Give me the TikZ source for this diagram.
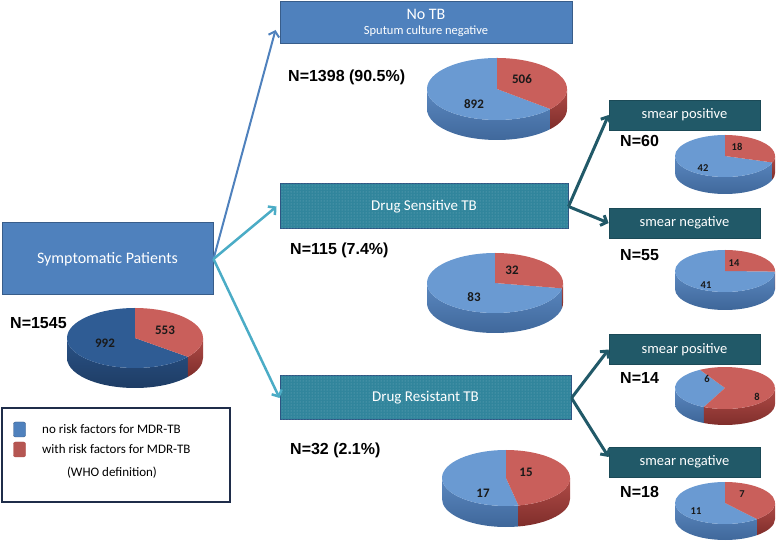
\documentclass[tikz,border=0pt]{standalone}
\usepackage{fontspec}
\setmainfont{Carlito}
\newfontfamily\arialfont{Liberation Sans}
\usetikzlibrary{arrows.meta,patterns}

\definecolor{boxblue}{HTML}{4F81BD}
\definecolor{boxblueline}{HTML}{385D8A}
\definecolor{drugfill}{HTML}{31859C}
\definecolor{drugline}{HTML}{2E5482}
\definecolor{smearfill}{HTML}{215968}
\definecolor{smearline}{HTML}{1B4A57}
\definecolor{arrowcyan}{HTML}{4BACC6}
\definecolor{legendline}{HTML}{1F2D4A}
\definecolor{pietopblue}{HTML}{6A9AD2}
\definecolor{piesideblueA}{HTML}{5B88C0}
\definecolor{piesideblueB}{HTML}{3E6699}
\definecolor{pietopred}{HTML}{C95F5B}
\definecolor{piesideredA}{HTML}{B04B47}
\definecolor{piesideredB}{HTML}{7F2E2B}
\definecolor{pietopdark}{HTML}{2F5C94}
\definecolor{piesidedarkA}{HTML}{2A5286}
\definecolor{piesidedarkB}{HTML}{1D3B62}

% top of one slice: centre, rx, ry, start, end, style
\newcommand{\slicetop}[6]{%
  \path[#6] (#1) -- ++(#4:#2 and #3) arc[start angle=#4, end angle=#5, x radius=#2, y radius=#3] -- cycle;}
% visible side of one slice: centre, rx, ry, depth, start, end, style
\newcommand{\sliceside}[7]{%
  \path[#7] (#1) ++(#5:#2 and #3) arc[start angle=#5, end angle=#6, x radius=#2, y radius=#3]
    -- ++(0,-#4) arc[start angle=#6, end angle=#5, x radius=#2, y radius=#3] -- cycle;}
% two slice pie: centre, rx, ry, depth, red from A to B
\newcommand{\tbpie}[6]{%
  \pgfmathsetmacro\pieAA{#5+360}
  \sliceside{#1}{#2}{#3}{#4}{180}{\pieAA}{blue side}
  \sliceside{#1}{#2}{#3}{#4}{#5}{0}{red side}
  \slicetop{#1}{#2}{#3}{#6}{\pieAA}{blue top}
  \slicetop{#1}{#2}{#3}{#5}{#6}{red top}}

\begin{document}
\begin{tikzpicture}[x=1pt, y=1pt,
  bluebox/.style={draw=boxblueline, line width=1pt, fill=boxblue, text=white, inner sep=0pt,
    align=center, font=\fontsize{16}{18}\selectfont},
  drugbox/.style={draw=drugline, line width=1pt, fill=drugfill, text=white, inner sep=0pt,
    postaction={pattern=dots, pattern color=drugfill!65!white}, font=\fontsize{15}{17}\selectfont},
  smearbox/.style={draw=smearline, line width=0.8pt, fill=smearfill, text=white, inner sep=0pt,
    minimum width=151pt, minimum height=30pt, font=\fontsize{14.5}{17}\selectfont},
  nlabel/.style={anchor=west, inner sep=0pt, font=\arialfont\bfseries\fontsize{16}{18}\selectfont},
  numlabel/.style={inner sep=0pt, text=black!90, font=\bfseries\fontsize{13}{15}\selectfont},
  smallnum/.style={numlabel, font=\bfseries\fontsize{10.5}{12}\selectfont},
  legendtext/.style={inner sep=0pt, font=\fontsize{13}{15}\selectfont},
  flow/.style={line width=2.5pt, -{Straight Barb[length=5pt, width=11pt]}},
  blue top/.style={fill=pietopblue},
  blue side/.style={top color=piesideblueA, bottom color=piesideblueB},
  red top/.style={fill=pietopred},
  red side/.style={top color=piesideredA, bottom color=piesideredB},
  swatch/.style={rounded corners=2pt, minimum width=12pt, minimum height=15pt, inner sep=0pt}]

\path [use as bounding box] (0,0) rectangle (778,543);

% BOXES
\node[bluebox, minimum width=211pt, minimum height=72pt] (sym) at (107.5,284) {Symptomatic Patients};
\node[bluebox, minimum width=292pt, minimum height=42pt] (notb) at (426,520)
  {No TB\\[-3pt]{\fontsize{12.5}{14}\selectfont Sputum culture negative}};
\node[drugbox, minimum width=288pt, minimum height=45pt] (ds) at (424,336.5) {Drug Sensitive TB};
\node[drugbox, minimum width=291pt, minimum height=44pt] (dr) at (425.5,145) {Drug Resistant TB};
\node[smearbox] (sp1) at (684.5,428) {smear positive};
\node[smearbox] (sn1) at (684.5,320) {smear negative};
\node[smearbox] (sp2) at (684.5,193.5) {smear positive};
\node[smearbox] (sn2) at (684.5,81) {smear negative};

% ARROWS
\draw[flow, draw=boxblue, line width=2pt] (sym.east) -- ([xshift=-4pt,yshift=-7pt]notb.west);
\draw[flow, draw=arrowcyan] (sym.east) -- ([xshift=-3pt]ds.west);
\draw[flow, draw=arrowcyan] (sym.east) -- (dr.west);
\draw[flow, draw=smearfill, line width=3pt] (ds.east) -- (sp1.west);
\draw[flow, draw=smearfill, line width=3pt] (ds.east) -- (sn1.west);
\draw[flow, draw=smearfill, line width=3pt] (dr.east) -- (sp2.west);
\draw[flow, draw=smearfill, line width=3pt] (dr.east) -- ([yshift=5pt]sn2.west);

% PIES
\coordinate (pall) at (135,205);
\coordinate (pnotb) at (497,454);
\coordinate (pds) at (495,260);
\coordinate (pdr) at (506,65);
\coordinate (psp1) at (725,387);
\coordinate (psn1) at (725,272);
\coordinate (psp2) at (725,155);
\coordinate (psn2) at (725,40);

\begin{scope}[blue top/.style={fill=pietopdark},
  blue side/.style={top color=piesidedarkA, bottom color=piesidedarkB}]
\tbpie{pall}{68}{30}{20}{-38.9}{90}
\end{scope}
\tbpie{pnotb}{70}{31}{20}{-40.3}{90}
\tbpie{pds}{68}{30}{20}{-10.2}{90}
\tbpie{pdr}{64}{28}{21}{-78.75}{90}
\tbpie{psp1}{50}{21}{17}{-18}{90}
\tbpie{psn1}{50}{21}{18}{-1.6}{90}
\tbpie{psp2}{50}{21}{16}{-115}{120}
\tbpie{psn2}{50}{21}{16}{-50}{90}

% PIE NUMBERS
\node[numlabel] (nall1) at (105,200) {992};
\node[numlabel] (nall2) at (165,213) {553};
\node[numlabel] (nnotb1) at (474,439) {892};
\node[numlabel] (nnotb2) at (522,464) {506};
\node[numlabel] (nds1) at (474,246) {83};
\node[numlabel] (nds2) at (512,273) {32};
\node[numlabel] (ndr1) at (483,50) {17};
\node[numlabel] (ndr2) at (526,71) {15};
\node[smallnum] (nsp1a) at (703,375) {42};
\node[smallnum] (nsp1b) at (737,396) {18};
\node[smallnum] (nsn1a) at (706,258) {41};
\node[smallnum] (nsn1b) at (734,280) {14};
\node[smallnum] (nsp2a) at (707,164) {6};
\node[smallnum] (nsp2b) at (757,146) {8};
\node[smallnum] (nsn2a) at (696,32) {11};
\node[smallnum] (nsn2b) at (742,49) {7};

% TOTALS
\node[nlabel] (tall) at (10,220) {N=1545};
\node[nlabel] (tnotb) at (288,466) {N=1398 (90.5\%)};
\node[nlabel] (tds) at (290,293) {N=115 (7.4\%)};
\node[nlabel] (tdr) at (290,93) {N=32 (2.1\%)};
\node[nlabel] (tsp1) at (620,402) {N=60};
\node[nlabel] (tsn1) at (620,288) {N=55};
\node[nlabel] (tsp2) at (620,165) {N=14};
\node[nlabel] (tsn2) at (620,51) {N=18};

% LEGEND
\node[draw=legendline, line width=2pt, fill=white, minimum width=228pt, minimum height=94pt] (legend) at (116,88) {};
\node[swatch, fill=boxblue, draw=boxblueline] (lblue) at (19.5,113.5) {};
\node[swatch, fill=pietopred!90!black, draw=piesideredA] (lred) at (19.5,93.5) {};
\node[legendtext, anchor=west] (tblue) at (42,114) {no risk factors for MDR-TB};
\node[legendtext, anchor=west] (tred) at (42,94) {with risk factors for MDR-TB};
\node[legendtext] (twho) at (112,70) {(WHO definition)};

\end{tikzpicture}
\end{document}
